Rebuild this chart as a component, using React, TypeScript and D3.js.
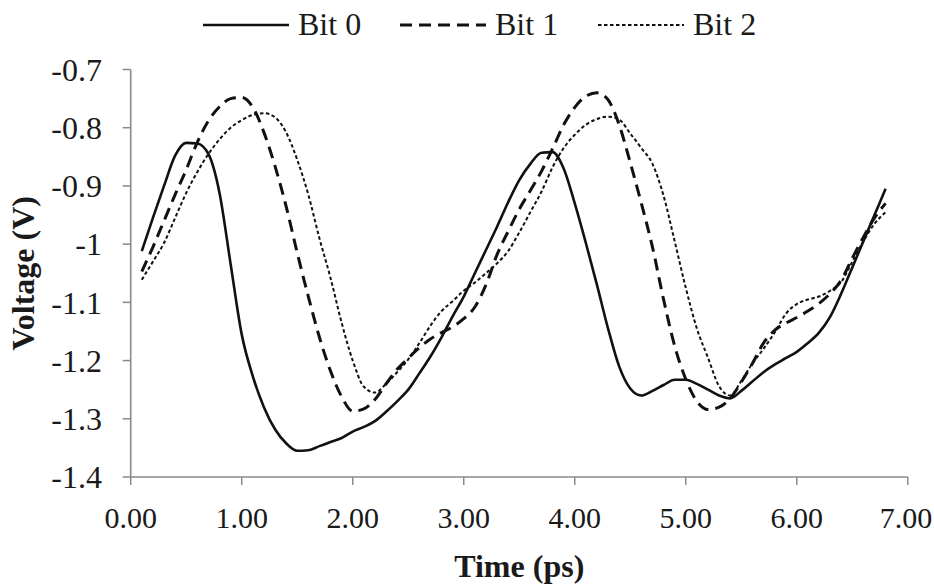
import React from "react"
import * as d3 from "d3"

// time in ps, sampled every 0.1
const time = [
  0.1, 0.2, 0.3, 0.4, 0.5, 0.6, 0.7, 0.8, 0.9, 1.0,
  1.1, 1.2, 1.3, 1.4, 1.5, 1.6, 1.7, 1.8, 1.9, 2.0,
  2.1, 2.2, 2.3, 2.4, 2.5, 2.6, 2.7, 2.8, 2.9, 3.0,
  3.1, 3.2, 3.3, 3.4, 3.5, 3.6, 3.7, 3.8, 3.9, 4.0,
  4.1, 4.2, 4.3, 4.4, 4.5, 4.6, 4.7, 4.8, 4.9, 5.0,
  5.1, 5.2, 5.3, 5.4, 5.5, 5.6, 5.7, 5.8, 5.9, 6.0,
  6.1, 6.2, 6.3, 6.4, 6.5, 6.6, 6.7, 6.8
]

const bit0 = [
  -1.012, -0.955, -0.9, -0.848, -0.826, -0.827, -0.845, -0.912, -1.034, -1.155,
  -1.227, -1.28, -1.318, -1.342, -1.355, -1.354, -1.347, -1.34, -1.333, -1.322,
  -1.314, -1.304, -1.288, -1.27, -1.25, -1.222, -1.193, -1.16, -1.124, -1.09,
  -1.05, -1.01, -0.97, -0.928, -0.89, -0.862, -0.843, -0.842, -0.87, -0.93,
  -0.998, -1.07, -1.145, -1.21, -1.248, -1.26, -1.252, -1.242, -1.233, -1.233,
  -1.24, -1.25, -1.26, -1.265, -1.252, -1.236, -1.22, -1.207, -1.196, -1.185,
  -1.17, -1.152, -1.125, -1.085, -1.04, -0.995, -0.95, -0.905
]

const bit1 = [
  -1.047, -1.005, -0.96, -0.915, -0.872, -0.825, -0.788, -0.764, -0.75, -0.748,
  -0.765, -0.808, -0.866, -0.935, -1.015, -1.09, -1.16, -1.218, -1.262, -1.287,
  -1.283, -1.267, -1.24, -1.215, -1.196, -1.178, -1.163, -1.152, -1.142, -1.128,
  -1.108, -1.07, -1.018, -0.978, -0.94, -0.908, -0.875, -0.836, -0.795, -0.765,
  -0.746, -0.74, -0.752, -0.795, -0.86, -0.93, -1.005, -1.095, -1.175, -1.232,
  -1.27, -1.284, -1.28, -1.265, -1.237, -1.205, -1.17, -1.148, -1.136, -1.126,
  -1.115, -1.102, -1.085, -1.062, -1.024, -0.988, -0.955, -0.93
]

const bit2 = [
  -1.061, -1.03, -0.998, -0.955, -0.912, -0.876, -0.845, -0.82, -0.8, -0.787,
  -0.778, -0.775, -0.782, -0.808, -0.855, -0.915, -0.99, -1.058, -1.135, -1.2,
  -1.245, -1.255, -1.24, -1.22, -1.198, -1.17, -1.14, -1.115, -1.098, -1.08,
  -1.066, -1.05, -1.033, -1.012, -0.98, -0.945, -0.91, -0.868, -0.835, -0.812,
  -0.795, -0.785, -0.781, -0.786, -0.81, -0.835, -0.862, -0.917, -0.995, -1.075,
  -1.145, -1.195, -1.244, -1.26, -1.235, -1.205, -1.18, -1.152, -1.12, -1.103,
  -1.095, -1.09, -1.08, -1.065, -1.03, -0.995, -0.965, -0.945
]

const xTicks = [0, 1, 2, 3, 4, 5, 6, 7]
const yTicks = [-0.7, -0.8, -0.9, -1, -1.1, -1.2, -1.3, -1.4]
const seriesNames = ["Bit 0", "Bit 1", "Bit 2"]

const FONT = "'Liberation Serif', 'Times New Roman', serif"

const App = () => {
  const w = 934
  const h = 587
  const left = 130.7
  const right = 907.8
  const top = 69.5
  const bottom = 477

  const x = d3.scaleLinear().domain([0, 7]).range([left, right])
  const y = d3.scaleLinear().domain([-1.4, -0.7]).range([bottom, top])

  const line = d3.line<number>()
    .x((d, i) => x(time[i]))
    .y(d => y(d))
    .curve(d3.curveMonotoneX)

  const styles = [
    { width: 2.6, dash: null },
    { width: 3, dash: "12,7" },
    { width: 2, dash: "3.5,2.5" }
  ]
  const values = [bit0, bit1, bit2]

  // legend placement (line start x)
  const legendX = [203, 400, 598]
  const legendLen = 86

  return (
    <svg width={w} height={h} style={{ position: "absolute", left: 0, top: 0, background: "#fff" }}
      fontFamily={FONT}>
      {/* axes */}
      <line x1={left} x2={left} y1={top} y2={bottom} stroke="#8a8a8a" strokeWidth={1.6} />
      <line x1={left} x2={right} y1={bottom} y2={bottom} stroke="#8a8a8a" strokeWidth={1.6} />
      {yTicks.map(t => (
        <g key={"y" + t}>
          <line x1={left - 8} x2={left} y1={y(t)} y2={y(t)} stroke="#8a8a8a" strokeWidth={1.5} />
          <text x={102} y={y(t)} dy="0.35em" textAnchor="end" fontSize={32} fill="#1a1a1a">{String(t)}</text>
        </g>
      ))}
      {xTicks.map(t => (
        <g key={"x" + t}>
          <line x1={x(t)} x2={x(t)} y1={bottom} y2={bottom + 8} stroke="#8a8a8a" strokeWidth={1.5} />
          <text x={Math.min(x(t), 906)} y={528} textAnchor="middle" fontSize={30} fill="#1a1a1a">{t.toFixed(2)}</text>
        </g>
      ))}

      <text x={(left + right) / 2} y={577} textAnchor="middle" fontSize={32} fontWeight="bold" fill="#1a1a1a">Time (ps)</text>
      <text transform={`translate(34,${(top + bottom) / 2}) rotate(-90)`} textAnchor="middle" fontSize={32}
        fontWeight="bold" fill="#1a1a1a">Voltage (V)</text>

      {/* series */}
      {values.map((v, i) => (
        <path key={seriesNames[i]} d={line(v) || ""} fill="none" stroke="#111"
          strokeWidth={styles[i].width} strokeDasharray={styles[i].dash || undefined} />
      ))}

      {/* legend */}
      {seriesNames.map((name, i) => (
        <g key={"leg" + name}>
          <line x1={legendX[i]} x2={legendX[i] + legendLen} y1={25} y2={25} stroke="#111"
            strokeWidth={styles[i].width} strokeDasharray={styles[i].dash || undefined} />
          <text x={legendX[i] + legendLen + 9} y={35} fontSize={32} fill="#1a1a1a">{name}</text>
        </g>
      ))}
    </svg>
  )
}

export default App
